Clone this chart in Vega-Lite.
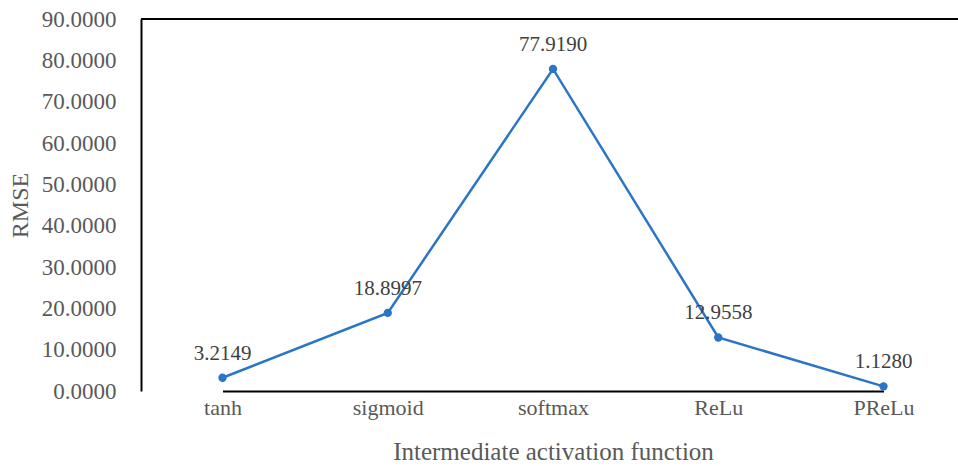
{
  "$schema": "https://vega.github.io/schema/vega-lite/v6.json",
  "width": 817,
  "height": 372,
  "autosize": {"type": "none"},
  "padding": {"left": 141, "top": 19, "right": 0, "bottom": 75},
  "background": "white",
  "config": {
    "view": {"stroke": null},
    "font": "Liberation Serif",
    "axis": {"grid": false, "ticks": false}
  },
  "data": {
    "values": [
      {"fn": "tanh", "rmse": 3.2149},
      {"fn": "sigmoid", "rmse": 18.8997},
      {"fn": "softmax", "rmse": 77.9190},
      {"fn": "ReLu", "rmse": 12.9558},
      {"fn": "PReLu", "rmse": 1.1280}
    ]
  },
  "encoding": {
    "x": {
      "field": "fn",
      "type": "ordinal",
      "sort": null,
      "scale": {"type": "point", "range": [81.5, 742.5], "padding": 0},
      "axis": {
        "title": "Intermediate activation function",
        "labelAngle": 0,
        "labelFont": "Liberation Serif",
        "labelFontSize": 22,
        "labelColor": "#595959",
        "labelPadding": 6,
        "titleFont": "Liberation Serif",
        "titleFontSize": 25,
        "titleFontWeight": "normal",
        "titleColor": "#595959",
        "titlePadding": 21,
        "domainColor": "#000000",
        "domainWidth": 2
      }
    },
    "y": {
      "field": "rmse",
      "type": "quantitative",
      "scale": {"domain": [0, 90], "nice": false},
      "axis": {
        "title": "RMSE",
        "values": [0, 10, 20, 30, 40, 50, 60, 70, 80, 90],
        "format": ".4f",
        "labelFont": "Liberation Serif",
        "labelFontSize": 23,
        "labelColor": "#595959",
        "labelPadding": 25,
        "titleFont": "Liberation Serif",
        "titleFontSize": 24,
        "titleFontWeight": "normal",
        "titleColor": "#595959",
        "titlePadding": 9,
        "domainColor": "#000000",
        "domainWidth": 2
      }
    }
  },
  "layer": [
    {
      "mark": {"type": "rule", "color": "#000000", "strokeWidth": 2},
      "encoding": {"y": {"datum": 90}, "x": {"value": 0}, "x2": {"value": 817}}
    },
    {
      "mark": {"type": "line", "color": "#2a75c6", "strokeWidth": 2.5, "point": {"filled": true, "size": 70, "color": "#2a75c6", "opacity": 1}}
    },
    {
      "mark": {"type": "text", "dy": -24, "fontSize": 21, "font": "Liberation Serif", "color": "#404040"},
      "encoding": {"text": {"field": "rmse", "type": "quantitative", "format": ".4f"}}
    }
  ]
}
